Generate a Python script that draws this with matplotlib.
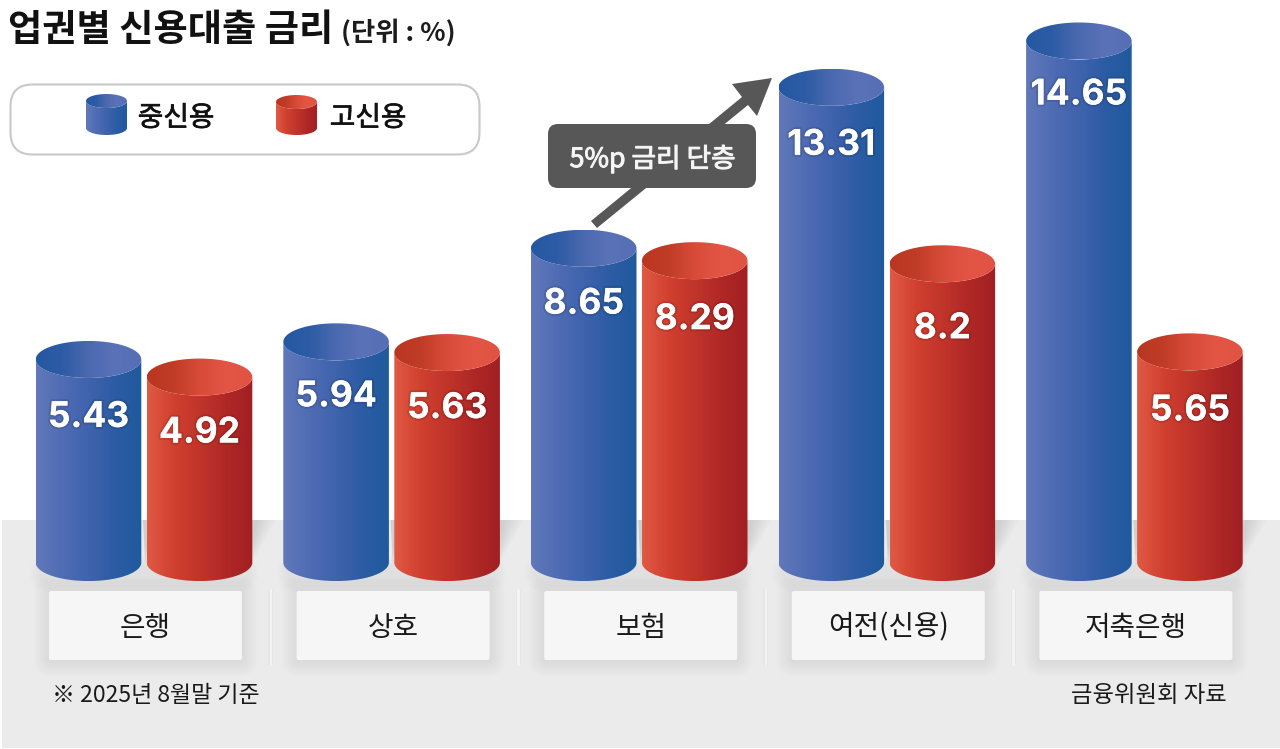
import numpy as np
import matplotlib
matplotlib.use("Agg")
import matplotlib.pyplot as plt
import matplotlib.patheffects as pe
from matplotlib.colors import LinearSegmentedColormap
from matplotlib.patches import FancyBboxPatch, PathPatch, Polygon, Rectangle
from matplotlib.path import Path

plt.rcParams['font.family'] = ['Inter', 'Noto Sans CJK KR', 'DejaVu Sans']
KR = ['Noto Sans CJK KR', 'DejaVu Sans']

# data
categories = ["은행", "상호", "보험", "여전(신용)", "저축은행"]
mid_credit = [5.43, 5.94, 8.65, 13.31, 14.65]
high_credit = [4.92, 5.63, 8.29, 8.2, 5.65]
mid_labels = ["5.43", "5.94", "8.65", "13.31", "14.65"]
high_labels = ["4.92", "5.63", "8.29", "8.2", "5.65"]

W, H = 1280, 749
GROUP_STEP = 247.6   # px per category
X0 = 144.0           # px of first category
Y_ZERO = 547.0       # px of value 0
Y_SCALE = 34.54      # px per 1 %
BASE = -0.45         # where cylinders stand on the floor

# small hand nudges (px) for the number labels, they don't sit at a fixed drop in the original
mid_nudge = [4, 1, 2, 4, 0]
high_nudge = [2, 2, 5, 11, 5]

blue_body = LinearSegmentedColormap.from_list("bb", ["#6179ba", "#4f6cb4", "#3f63ad", "#2c5ca4", "#1f5a9d"])
blue_top = LinearSegmentedColormap.from_list("bt", ["#2558a2", "#2d5ca5", "#4b69b0", "#5a72b8", "#566eb5"])
red_body = LinearSegmentedColormap.from_list("rb", ["#e05a44", "#d1402f", "#c0342a", "#b02826", "#a11f23"])
red_top = LinearSegmentedColormap.from_list("rt", ["#b93621", "#c03c27", "#d84b39", "#e35645", "#e05343"])


def cylinder(ax, left, right, top, base, hh, body_cmap, top_cmap):
    grad = np.linspace(0, 1, 256).reshape(1, -1)
    cx = (left + right) / 2
    rx = (right - left) / 2
    t = np.linspace(np.pi, 2 * np.pi, 60)
    # body outline: down left side, under bottom arc, up right side, back over the top arc
    xs = np.r_[cx + rx * np.cos(t), cx + rx * np.cos(t[::-1])]
    ys = np.r_[base + hh * np.sin(t), top + hh * np.sin(t[::-1])]
    im = ax.imshow(grad, cmap=body_cmap, extent=(left, right, base - hh, top + hh),
                   aspect="auto", zorder=3, interpolation="bilinear")
    im.set_clip_path(PathPatch(Path(np.c_[xs, ys]), transform=ax.transData))
    a = np.linspace(0, 2 * np.pi, 120)
    im2 = ax.imshow(grad, cmap=top_cmap, extent=(left, right, top - hh, top + hh),
                    aspect="auto", zorder=4, interpolation="bilinear")
    im2.set_clip_path(PathPatch(Path(np.c_[cx + rx * np.cos(a), top + hh * np.sin(a)]), transform=ax.transData))


def soft_box(ax, x, y, w, h, r, spread, alpha, zorder):
    for k in range(spread, 0, -1):
        ax.add_patch(FancyBboxPatch((x - k, y - k + 1), w + 2 * k, h + 2 * k,
                                    boxstyle=f"round,pad=0,rounding_size={r + k}",
                                    fc="#000000", ec="none", alpha=alpha, zorder=zorder))


def medium(color, width=0.5):
    # the font has no medium cut that matplotlib picks up, thicken the regular one a bit
    return [pe.withStroke(linewidth=width, foreground=color)]


fig = plt.figure(figsize=(W / 100, H / 100), dpi=100)
fig.patch.set_facecolor("white")

# background layer in pixel coordinates
back = fig.add_axes([0, 0, 1, 1])
back.axis("off")
back.add_patch(Rectangle((2, 520), W - 2, H - 520 - 1, fc="#ebebeb", ec="none", zorder=0))

for i, name in enumerate(categories):
    cx = X0 + GROUP_STEP * i
    right = cx + 108
    # slanted shadows on the floor, behind each bar
    for k in range(7):
        for edge in (right, cx + 3):
            back.add_patch(Polygon([(edge - 4, 520), (edge + 24 - k * 3, 520), (edge - 2, 566 - k * 2)],
                                   fc="#000000", ec="none", alpha=0.014, zorder=1))
    # soft shadow under the bars
    soft_box(back, cx - 104, 566, 208, 14, 7, 11, 0.005, 1)
    # label box
    bx = cx - 95
    soft_box(back, bx, 591, 193, 69, 2, 16, 0.0055, 1)
    back.add_patch(FancyBboxPatch((bx, 591), 193, 69, boxstyle="round,pad=0,rounding_size=2",
                                  fc="#f6f6f6", ec="none", zorder=2))
    back.text(bx + 96.5, 627.5, name, ha="center", va="center", fontsize=20, family=KR, color="#1a1a1a", zorder=3)
    # dividers
    if i < 4:
        dx = cx + 124
        back.add_patch(Rectangle((dx, 589), 5, 76, fc="#e0e0e0", ec="none", alpha=0.45, zorder=1))
        back.add_patch(Rectangle((dx + 1.5, 589), 2.5, 76, fc="#f3f3f3", ec="none", zorder=1))

# title
back.text(8, 31, "업권별 신용대출 금리", fontsize=26.8, fontweight="bold", family=KR, color="#111111", ha="left", va="center")
back.text(341, 33, "(단위 : %)", fontsize=19, fontweight="bold", family=KR, color="#1c1c1c", ha="left", va="center")

# legend
back.add_patch(FancyBboxPatch((10.5, 84.5), 469, 70, boxstyle="round,pad=0,rounding_size=22",
                              fc="white", ec="#c9c9c9", lw=1.5, zorder=1))
cylinder(back, 86, 127, 101, 128, -7, blue_body, blue_top)
cylinder(back, 276, 317, 102, 128, -7, red_body, red_top)
back.text(176, 118, "중신용", fontsize=20, family=KR, ha="center", va="center", color="#111111", zorder=3,
          path_effects=medium("#111111"))
back.text(368, 118, "고신용", fontsize=20, family=KR, ha="center", va="center", color="#111111", zorder=3,
          path_effects=medium("#111111"))

# callout arrow
back.add_patch(Polygon([(591, 221), (597, 228), (748, 105), (757, 116), (772, 78),
                        (732, 84), (742, 97)], fc="#585757", ec="none", zorder=2))
back.add_patch(FancyBboxPatch((548, 124), 208, 64, boxstyle="round,pad=0,rounding_size=10",
                              fc="#585757", ec="none", zorder=3))
back.text(652.5, 159, "5%p 금리 단층", fontsize=19.2, family=KR, color="#f5f5f5",
          ha="center", va="center", zorder=4, path_effects=medium("#f5f5f5", 0.7))

# notes
back.text(52, 696, "※ 2025년 8월말 기준", fontsize=16.5, family=KR, color="#1a1a1a", ha="left", va="center", zorder=3)
back.text(1227, 695, "금융위원회 자료", fontsize=16.8, family=KR, color="#1a1a1a", ha="right", va="center", zorder=3)

back.set_xlim(0, W)
back.set_ylim(H, 0)

# bars on their own axes: x = category index, y = rate in %
ax = fig.add_axes([0, 0, 1, 1], facecolor="none")
ax.axis("off")
bar_half = 52.8 / GROUP_STEP
offset = 55.5 / GROUP_STEP
hh = 18.5 / Y_SCALE
label_drop = 54 / Y_SCALE

shadow = [pe.withStroke(linewidth=3, foreground=(0, 0, 0, 0.10))]
for i in range(len(categories)):
    for val, lab, nudge, sign, body, top in ((mid_credit[i], mid_labels[i], mid_nudge[i], -1, blue_body, blue_top),
                                             (high_credit[i], high_labels[i], high_nudge[i], 1, red_body, red_top)):
        c = i + sign * offset
        cylinder(ax, c - bar_half, c + bar_half, val, BASE, hh, body, top)
        ax.text(c, val - label_drop - nudge / Y_SCALE, lab, ha="center", va="center", color="white",
                fontsize=25.5, fontweight="bold", zorder=6, path_effects=shadow)

ax.set_xlim(-X0 / GROUP_STEP, (W - X0) / GROUP_STEP)
ax.set_ylim((Y_ZERO - H) / Y_SCALE, Y_ZERO / Y_SCALE)

fig.savefig("out.png", dpi=100)
